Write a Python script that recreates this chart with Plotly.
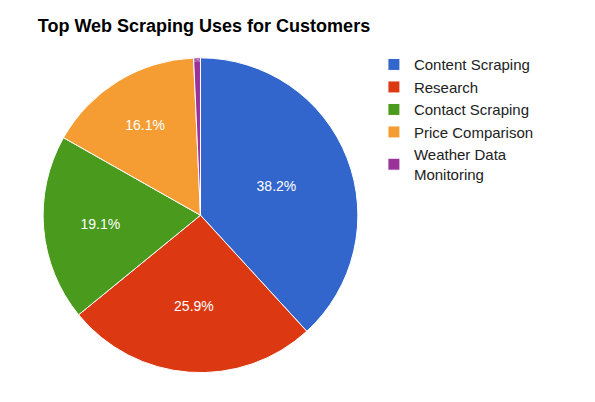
import plotly.graph_objects as go

labels = ["Content Scraping", "Research", "Contact Scraping", "Price Comparison", "Weather Data<br>Monitoring"]
values = [38.2, 25.9, 19.1, 16.1, 0.7]
colors = ["#3366cc", "#dc3912", "#4a9a1d", "#f59d33", "#993399"]

fig = go.Figure(go.Pie(
    labels=labels, values=values, sort=False, direction="clockwise", rotation=0,
    marker=dict(colors=colors, line=dict(color="white", width=1)),
    textinfo="percent", texttemplate="%{percent:.1%}", textposition="inside",
    insidetextorientation="horizontal",
    textfont=dict(color="white", size=14, family="Arial, Liberation Sans"),
    domain=dict(x=[0.057, 0.59], y=[0.093, 0.876]),
    hoverinfo="label+percent",
))
fig.update_layout(
    width=595, height=402, margin=dict(l=0, r=0, t=0, b=0),
    paper_bgcolor="white", plot_bgcolor="white",
    font=dict(family="Arial, Liberation Sans", color="#222"),
    title=dict(text="<b>Top Web Scraping Uses for Customers</b>", x=0.05, xanchor="left",
               y=0.955, yanchor="middle", font=dict(size=18, color="black")),
    legend=dict(x=0.615, y=0.9, xanchor="left", yanchor="top", font=dict(size=15, color="#222"),
                itemwidth=30, tracegroupgap=4),
)
fig.write_html("out.html")
